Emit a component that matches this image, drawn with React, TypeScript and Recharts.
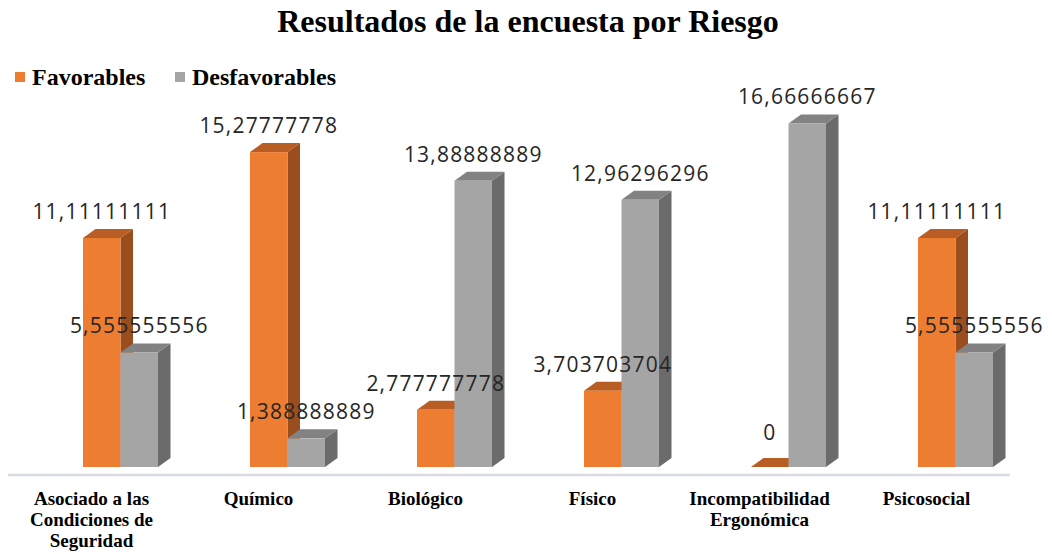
import React from "react";
import { BarChart, Bar, XAxis, YAxis, LabelList } from "recharts";

const categories = [
  "Asociado a las Condiciones de Seguridad",
  "Químico",
  "Biológico",
  "Físico",
  "Incompatibilidad Ergonómica",
  "Psicosocial",
];
const tickLines = [
  ["Asociado a las", "Condiciones de", "Seguridad"],
  ["Químico"],
  ["Biológico"],
  ["Físico"],
  ["Incompatibilidad", "Ergonómica"],
  ["Psicosocial"],
];
const favorables = [11.11111111, 15.27777778, 2.777777778, 3.703703704, 0, 11.11111111];
const desfavorables = [5.555555556, 1.388888889, 13.88888889, 12.96296296, 16.66666667, 5.555555556];

const data = categories.map((c, i) => ({
  name: c,
  idx: i,
  fav: favorables[i],
  des: desfavorables[i],
}));

const SX = 29; // perspective shift
const SY = -8;
const DX = 12.5;
const DY = 9;

const fmt = (v: number) => (v === 0 ? "0" : v.toPrecision(10).replace(".", ","));

const makeShape = (front: string, top: string, side: string) => (props: any) => {
  const { x, y, width, height } = props;
  if (x == null || y == null) return null;
  const X = x + SX;
  const Y = y + SY;
  const w = width;
  const h = Math.max(0, height);
  return (
    <g>
      <polygon
        points={`${X + w},${Y} ${X + w + DX},${Y - DY} ${X + w + DX},${Y + h - DY} ${X + w},${Y + h}`}
        fill={side}
      />
      <polygon
        points={`${X},${Y} ${X + DX},${Y - DY} ${X + w + DX},${Y - DY} ${X + w},${Y}`}
        fill={top}
      />
      {h > 0 && <rect x={X} y={Y} width={w} height={h} fill={front} />}
    </g>
  );
};

const orangeShape = makeShape("#ed7d31", "#b85d24", "#9a4e1e");
const grayShape = makeShape("#a5a5a5", "#828282", "#6b6b6b");

const renderLabel = (props: any) => {
  const { x, y, width, value } = props;
  const extra = value === 0 ? 8 : 0;
  return (
    <text
      x={x + SX + width / 2}
      y={y + SY - 19 - extra}
      textAnchor="middle"
      fontFamily="'Open Sans', sans-serif"
      fontSize={21}
      letterSpacing={1.2}
      fill="#262626"
    >
      {fmt(value)}
    </text>
  );
};

const CatTick = (props: any) => {
  const { x, y, payload } = props;
  const lines = tickLines[payload.index] || [payload.value];
  return (
    <g>
      {lines.map((l: string, i: number) => (
        <text
          key={i}
          x={x}
          y={y + 24 + i * 21}
          textAnchor="middle"
          fontFamily="'Liberation Serif', 'Times New Roman', serif"
          fontWeight="bold"
          fontSize={19}
          fill="#000"
        >
          {l}
        </text>
      ))}
    </g>
  );
};

export default function App() {
  return (
    <div style={{ position: "absolute", left: 0, top: 0, width: 1052, height: 554, background: "#fff" }}>
      <BarChart
        width={1052}
        height={554}
        data={data}
        margin={{ top: 104, right: 42, bottom: 0, left: 8 }}
        barGap={0}
        barSize={37.5}
      >
        <XAxis
          dataKey="name"
          axisLine={{ stroke: "#d9dce1", strokeWidth: 2.5 }}
          tickLine={false}
          tickMargin={0}
          tick={<CatTick />}
          interval={0}
          height={79}
        />
        <YAxis hide domain={[0, 18]} />
        <Bar dataKey="fav" isAnimationActive={false} shape={orangeShape}>
          <LabelList dataKey="fav" content={renderLabel} />
        </Bar>
        <Bar dataKey="des" isAnimationActive={false} shape={grayShape}>
          <LabelList dataKey="des" content={renderLabel} />
        </Bar>
      </BarChart>
      <svg
        width={1052}
        height={100}
        style={{ position: "absolute", left: 0, top: 0, pointerEvents: "none" }}
      >
        <text
          x={528}
          y={32}
          textAnchor="middle"
          fontFamily="'Liberation Serif', 'Times New Roman', serif"
          fontWeight="bold"
          fontSize={32}
          fill="#000"
        >
          Resultados de la encuesta por Riesgo
        </text>
        <rect x={15} y={72} width={10} height={10} fill="#ed7d31" />
        <text x={32} y={85} fontFamily="'Liberation Serif', serif" fontWeight="bold" fontSize={24} fill="#000">
          Favorables
        </text>
        <rect x={175} y={72} width={10} height={10} fill="#a5a5a5" />
        <text x={192} y={85} fontFamily="'Liberation Serif', serif" fontWeight="bold" fontSize={24} fill="#000">
          Desfavorables
        </text>
      </svg>
    </div>
  );
}
